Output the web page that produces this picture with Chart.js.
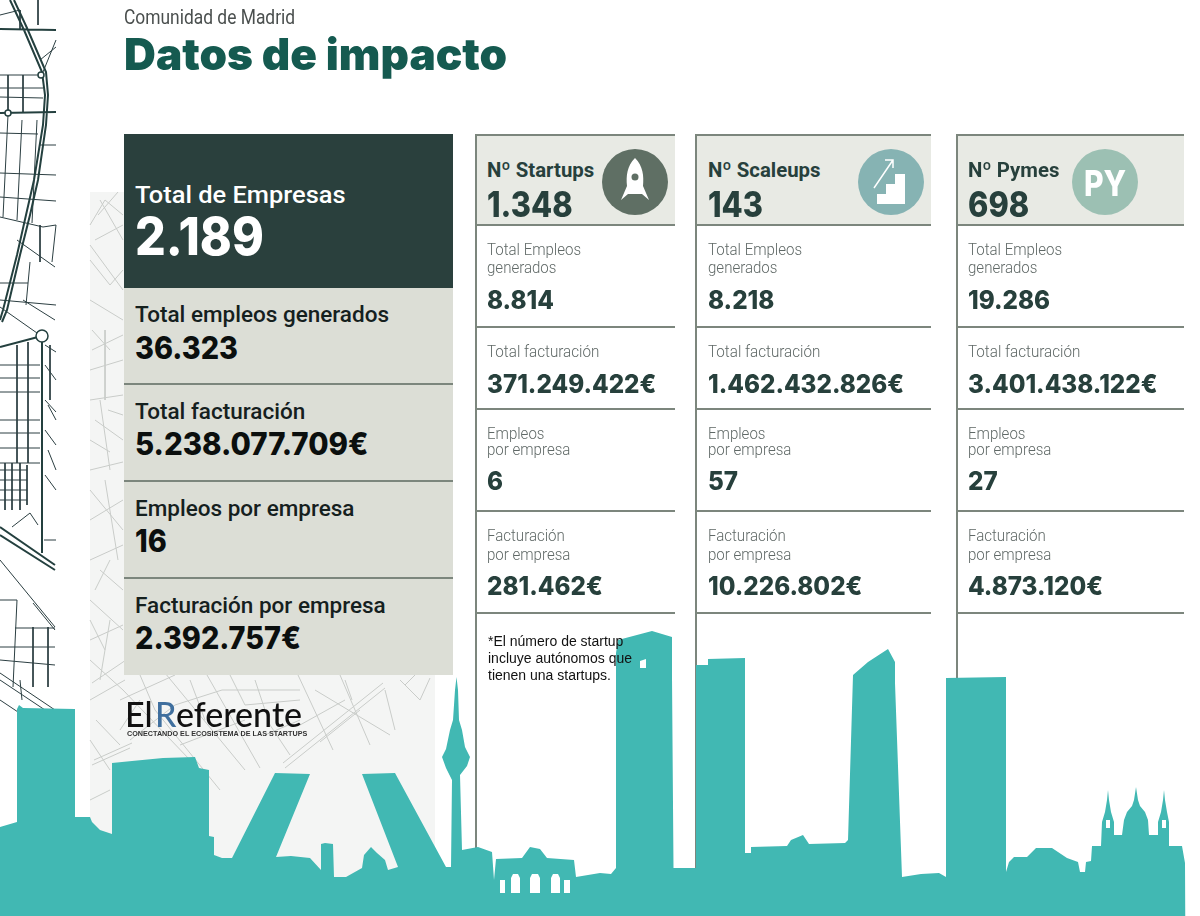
<!DOCTYPE html>
<html lang="es">
<head>
<meta charset="utf-8">
<title>Datos de impacto</title>
<script src="https://cdn.jsdelivr.net/npm/chart.js@4"></script>
<style>
html, body { margin: 0; padding: 0; background: #fff; }
#pagina { position: relative; width: 1200px; height: 916px; overflow: hidden; }
#fondo-mapa { position: absolute; left: 90px; top: 192px; width: 345px; height: 690px; background: #f4f5f4; }
#grafico { position: absolute; left: 0; top: 0; width: 1200px; height: 916px; }
.caja { position: absolute; }
.t { position: absolute; white-space: nowrap; line-height: 1; transform-origin: left center; }
.titulo { font: 900 44px Inter; color: #155a50; }
.sub { font: 400 20px Roboto; color: #4a4f4e; }
.et-g { font: 500 22.5px Roboto; color: #15201e; }
.va-g { font: 800 31px Inter; color: #0b0f0e; }
.et-h { font: 700 21px Roboto; color: #27403c; }
.va-h { font: 800 35px Inter; color: #27403c; }
.et { font: 300 16px Roboto; color: #5f6866; }
.va { font: 800 25.5px Inter; color: #27403c; }
.nota { font: 400 14px "Liberation Sans"; color: #111; }
.logo { font: 500 34px Lato; color: #111; }
.lema { font: 700 6.8px "Liberation Sans"; color: #333; }
</style>
</head>
<body>
<div id="pagina">
  <div id="fondo-mapa"></div>
  <canvas id="grafico" width="1200" height="916"></canvas>
</div>
<script>
// Datos de la tabla
const categorias = ['Nº Startups', 'Nº Scaleups', 'Nº Pymes'];
const empresas = [1348, 143, 698];
const empleos = [8814, 8218, 19286];
const facturacion = [371249422, 1462432826, 3401438122];
const empleosPorEmpresa = [6, 57, 27];
const facturacionPorEmpresa = [281462, 10226802, 4873120];

const totalEmpresas = 2189;
const totalEtiquetas = ['Total empleos generados', 'Total facturación', 'Empleos por empresa', 'Facturación por empresa'];
const totalValores = [36323, 5238077709, 16, 2392757];

// Silueta de Madrid (x, y de arriba abajo)
const silueta = [0,827, 17,822, 17,709, 19,705, 23,708, 75,709, 75,817, 90,817, 92,822, 100,830, 112,834, 112,763, 132,761, 163,758, 195,757, 199,768, 209,770, 209,836, 214,837, 214,855, 222,858, 232,858,
  275,773, 310,774, 276,857, 291,856, 310,858, 321,870, 321,844, 325,843, 333,844, 334,877, 346,877, 362,868, 364,855, 371,847, 377,853, 385,860, 388,870, 398,867,
  362,774, 395,773, 446,867, 451,867, 452,780, 446,768, 442,757, 446,749, 450,730, 453,720, 455,690, 456.5,677, 458,690, 459,720, 462,730, 465,747, 470,757, 467,766, 460,775, 462,850, 478,847, 492,852, 494,880, 496,859, 522,858, 530,847, 540,849, 547,858, 574,860, 576,877,
  600,873, 611,874, 616,868, 616,653, 618,640, 652,631, 672,637, 672,677, 673.5,868, 696,868, 696,665, 708,665, 708,659, 745,658, 745,853, 751,853, 751,847, 787,846, 791,840, 803,835, 809,844, 845,843, 848,840,
  853,675, 868,662, 888,649, 895,662, 895,683, 902,877, 921,874, 939,873, 946,877, 946,678, 1006,677, 1006,872, 1009,862, 1014,857, 1027,857, 1036,848, 1052,848, 1067,858, 1078,862, 1080,872, 1085,872, 1086,862, 1091,861, 1092,846, 1101,846,
  1102,822, 1105,812, 1107,800, 1108,790, 1109,800, 1111,812, 1114,822, 1114,835, 1122,835, 1124,820, 1127,812, 1132,806, 1134,800, 1136,787, 1138,800, 1140,806, 1145,812, 1148,820, 1149,835, 1158,835, 1158,822, 1161,812, 1163,800, 1164,790, 1165,800, 1167,812, 1169,822, 1169,846, 1182,846, 1185,863, 1185.5,916];

// Arcos de la Puerta de Alcalá y ventanas de las torres
const huecos = [
  [500,880, 505,880],
  [511,878, 513,874, 518,874, 520,878],
  [530,878, 532,874, 538,874, 540,878],
  [551,878, 553,874, 558,874, 560,878],
  [564,880, 570,880]
];
const ventanas = [
  [640,661, 646,659, 646,668],
  [1106,820, 1110,820],
  [1162,820, 1166,820]
];
const ventanasBase = [668, 828, 828];

// Columnas verticales de las tarjetas
const columnasX = [476, 696, 957];

// Calles del mapa oscuro
const callesOscuras = [
  [10,0, 24,30, 42,72, 45,95, 43,125, 34,180, 26,215, 17,255, 3,310, 0,320],
  [14,0, 27,28, 46,72, 48,95, 46,125, 38,180, 30,215, 20,255, 7,310, 2,322],
  [0,29, 56,30], [0,113, 56,112], [0,347, 38,337], [42,342, 42,553], [0,527, 55,565], [0,535, 55,570],
  [0,75, 40,75], [0,88, 43,88], [0,97, 43,98], [0,133, 38,134], [40,145, 56,145], [0,173, 56,175], [0,197, 56,201], [0,217, 43,227, 56,225],
  [8,75, 8,113], [23,75, 23,113], [8,115, 3,217], [22,120, 17,220], [37,120, 32,223], [38,0, 38,25], [43,72, 56,40], [40,60, 56,47], [0,15, 20,10], [20,10, 20,29],
  [17,240, 55,267], [0,283, 28,283], [0,300, 56,305], [23,300, 55,320], [0,307, 37,333], [40,225, 40,262], [56,225, 52,262], [30,262, 26,305],
  [0,365, 40,365], [0,378, 40,378], [0,392, 40,392], [17,345, 17,463], [28,342, 28,463], [0,420, 40,420], [0,433, 40,433], [0,448, 40,448], [0,463, 40,463],
  [0,470, 27,470], [0,480, 27,480], [0,490, 27,490], [0,500, 27,500], [5,463, 5,510], [12,463, 12,510], [20,463, 20,510], [27,465, 27,505],
  [12,527, 30,513, 38,525], [44,540, 56,540], [0,560, 55,627], [33,603, 55,630], [0,600, 17,600], [15,628, 55,628], [0,647, 55,647], [0,660, 55,665],
  [33,627, 33,687], [17,600, 13,687], [48,627, 48,687], [0,673, 55,710], [0,680, 45,710], [0,700, 18,712], [20,680, 22,700], [45,400, 56,412], [45,430, 56,445], [45,475, 56,490],
  [45,345, 56,352], [45,365, 56,380], [50,345, 50,400], [48,405, 56,420], [48,450, 56,470]
];
// Glorietas del mapa oscuro
const glorietas = [{ x: 42, y: 336 }, { x: 8, y: 113 }, { x: 41, y: 75 }];

// Calles del mapa claro
const callesClaras = [
  [90,225, 105,200, 123,215], [95,240, 123,225], [90,260, 110,285, 123,270], [100,200, 123,240], [90,300, 123,320], [92,330, 110,350], [105,330, 105,400],
  [90,370, 123,360], [90,400, 123,395], [95,420, 123,440], [100,400, 110,470], [90,470, 123,462], [90,520, 123,500], [105,480, 118,560], [90,560, 123,545], [90,600, 123,630], [100,570, 123,590], [90,640, 123,625], [110,620, 100,680],
  [92,683, 126,660], [90,700, 125,680], [90,660, 123,690, 190,760], [94,760, 132,743], [92,765, 130,748], [165,673, 245,770], [207,675, 260,768], [298,675, 333,750], [283,763, 383,683], [285,768, 385,688],
  [120,700, 175,675], [140,675, 155,710, 220,790], [130,740, 175,705, 222,690, 300,690], [230,675, 245,705, 300,700], [315,690, 390,735], [340,675, 370,745], [385,690, 395,730], [400,680, 420,700, 430,678], [405,685, 415,675], [300,725, 345,700], [320,742, 360,710],
  [98,215, 118,192], [90,245, 123,290], [92,350, 123,335], [108,410, 123,415], [90,440, 110,452], [90,490, 123,530], [95,590, 110,560], [90,620, 105,650], [96,720, 120,745], [120,730, 140,700], [190,680, 205,720], [255,680, 270,725, 290,755], [265,735, 300,720], [345,680, 352,700],
  [90,740, 110,770], [90,800, 110,790], [180,745, 245,720]
];

function formato(n) {
  return String(n).replace(/\B(?=(\d{3})+$)/g, '.');
}

// Pasa listas planas a puntos, con un hueco entre tramos
function puntos(tramos) {
  const salida = [];
  tramos.forEach(tramo => {
    for (let i = 0; i < tramo.length; i += 2) {
      salida.push({ x: tramo[i], y: tramo[i + 1] });
    }
    salida.push({ x: NaN, y: NaN });
  });
  return salida;
}

function linea(data, color, grosor) {
  return { data, showLine: true, borderColor: color, borderWidth: grosor, pointRadius: 0, fill: false, tension: 0 };
}

function relleno(tramo, color, base) {
  return { data: puntos([tramo]).slice(0, -1), showLine: true, borderWidth: 0, pointRadius: 0, backgroundColor: color, fill: { value: base } };
}

const TEAL = '#41b8b3';
const GRIS = '#7c867d';

const conjuntos = [];
huecos.forEach(h => conjuntos.push(relleno(h, '#fff', 893)));
ventanas.forEach((v, i) => conjuntos.push(relleno(v, '#fff', ventanasBase[i])));
conjuntos.push(relleno(silueta, TEAL, 916));
conjuntos.push(linea(puntos(columnasX.map(x => [x, 614, x, 880])), GRIS, 2));
conjuntos.push({ data: glorietas, showLine: false, pointRadius: [6, 3, 3], pointBackgroundColor: '#fff', pointBorderColor: '#24403f', pointBorderWidth: 1.5 });
conjuntos.push(linea(puntos(callesOscuras.slice(0, 8)), '#24403f', 2));
conjuntos.push(linea(puntos(callesOscuras.slice(8)), '#2c3f42', 1));
conjuntos.push(linea(puntos(callesClaras), '#c9ccc9', 1));

new Chart(document.getElementById('grafico'), {
  type: 'scatter',
  data: { datasets: conjuntos },
  options: {
    responsive: false,
    animation: false,
    layout: { padding: 0, autoPadding: false },
    plugins: { legend: { display: false }, tooltip: { enabled: false } },
    scales: {
      x: { type: 'linear', min: 0, max: 1200, display: false },
      y: { type: 'linear', min: 0, max: 916, reverse: true, display: false }
    }
  }
});

// Maquetación de textos y tarjetas
const pagina = document.getElementById('pagina');

function caja(x, y, w, h, color) {
  const d = document.createElement('div');
  d.className = 'caja';
  d.style.cssText = `left:${x}px;top:${y}px;width:${w}px;height:${h}px;background:${color}`;
  pagina.appendChild(d);
}

function texto(cadena, x, yc, clase, escala = 1, color = null, tam = null) {
  const d = document.createElement('div');
  d.className = 't ' + clase;
  d.textContent = cadena;
  d.style.left = x + 'px';
  d.style.top = yc + 'px';
  d.style.transform = `translateY(-50%) scaleX(${escala})`;
  if (color) d.style.color = color;
  if (tam) d.style.fontSize = tam + 'px';
  pagina.appendChild(d);
}

texto('Comunidad de Madrid', 124, 17, 'sub', 0.87);
texto('Datos de impacto', 124, 54, 'titulo', 1.003);

// Panel izquierdo
caja(124, 134, 329, 154, '#2a403d');
caja(124, 288, 329, 387, '#dcded6');
[384, 481, 578].forEach(y => caja(124, y - 1, 329, 2, GRIS));
texto('Total de Empresas', 135, 195, 'et-g', 1.06, '#fff', 24);
texto(formato(totalEmpresas), 135, 236, 'va-g', 0.93, '#fff', 52);
const yEtiqueta = [314, 411, 508, 605];
const yValor = [347, 443, 540, 637];
totalEtiquetas.forEach((e, i) => {
  texto(e, 135, yEtiqueta[i], 'et-g');
  texto(formato(totalValores[i]) + (i % 2 ? '€' : ''), 135, yValor[i], 'va-g', i === 1 ? 0.95 : 0.93);
});

// Logo
texto('El', 125, 713, 'logo');
texto('R', 155, 713, 'logo', 1, '#3f6f9e');
texto('eferente', 176, 713, 'logo');
texto('CONECTANDO EL ECOSISTEMA DE LAS STARTUPS', 127, 733, 'lema', 1.06);

// Tarjetas
const colX = [476, 696, 957];
const colAncho = [199, 235, 227];
const textoX = [487, 708, 968];
const reglas = [225, 327, 409, 511, 613];
const iconos = [
  { color: '#5f6f64', svg: '<path d="M0 -24 C8 -16 9 -6 8 4 L14 18 L7 12 L-7 12 L-14 18 L-8 4 C-9 -6 -8 -16 0 -24Z" fill="#fff"/><circle cy="-5" r="3.5" fill="#5f6f64"/>' },
  { color: '#86b3b3', svg: '<path d="M-14 22 L-14 12 L-5 12 L-5 2 L4 2 L4 -8 L14 -8 L14 22Z" fill="#fff"/><path d="M-17 6 L2 -22 M-6 -22 L2 -22 L2 -14" stroke="#fff" stroke-width="1.5" fill="none"/>' },
  { color: '#9cc0b3', svg: '' }
];
const cx = [635, 891, 1105];

categorias.forEach((cat, i) => {
  const x = colX[i];
  caja(x, 135, colAncho[i], 90, '#e8eae4');
  caja(x, 134, colAncho[i], 2, GRIS);
  caja(x - 1, 134, 2, 480, GRIS);
  reglas.forEach(y => caja(x, y - 1, colAncho[i], 2, GRIS));

  const tx = textoX[i];
  texto(cat, tx, 170, 'et-h', 0.97);
  texto(formato(empresas[i]), tx, 204, 'va-h', 0.88);
  texto('Total Empleos', tx, 249, 'et', 0.94);
  texto('generados', tx, 267, 'et', 0.94);
  texto(formato(empleos[i]), tx, 298.5, 'va', 0.95);
  texto('Total facturación', tx, 351, 'et', 0.95);
  texto(formato(facturacion[i]) + '€', tx, 382.5, 'va', 0.95);
  texto('Empleos', tx, 433, 'et', 0.94);
  texto('por empresa', tx, 449, 'et', 0.94);
  texto(formato(empleosPorEmpresa[i]), tx, 479.5, 'va', 0.95);
  texto('Facturación', tx, 535, 'et', 0.94);
  texto('por empresa', tx, 554, 'et', 0.94);
  texto(formato(facturacionPorEmpresa[i]) + '€', tx, 584.5, 'va', 0.95);

  const ns = 'http://www.w3.org/2000/svg';
  const s = document.createElementNS(ns, 'svg');
  s.setAttribute('width', 66);
  s.setAttribute('height', 66);
  s.setAttribute('viewBox', '-33 -33 66 66');
  s.style.cssText = `position:absolute;left:${cx[i] - 33}px;top:149px`;
  s.innerHTML = `<circle r="33" fill="${iconos[i].color}"/>` + iconos[i].svg;
  pagina.appendChild(s);
});
texto('PY', 1084, 183, 'va-h', 0.86, '#fff');

// Nota al pie
texto('*El número de startup', 488, 641, 'nota');
texto('incluye autónomos que', 488, 658, 'nota');
texto('tienen una startups.', 488, 675, 'nota');
</script>
</body>
</html>
